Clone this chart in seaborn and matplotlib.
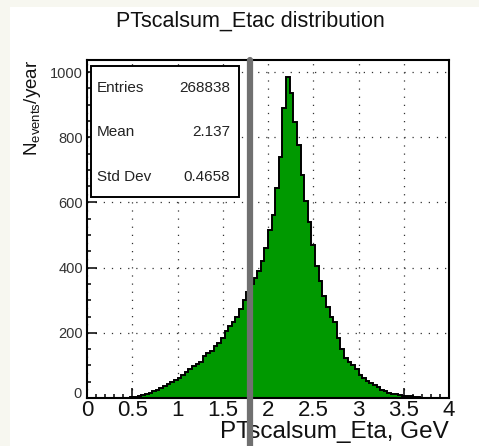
import numpy as np
import pandas as pd
import matplotlib
matplotlib.use("Agg")
import matplotlib.pyplot as plt
import matplotlib.transforms as mtransforms
import seaborn as sns
from matplotlib.patches import Rectangle
from matplotlib.ticker import MultipleLocator

# ---------------- data ----------------
bin_width = 0.04
bin_edges = [round(i * bin_width, 4) for i in range(101)]
bin_centers = [round(e + bin_width / 2, 4) for e in bin_edges[:-1]]
counts = [
    0, 0, 0, 0, 0, 0, 0, 0, 0, 0,            # 0.00-0.40
    0, 0, 2, 4, 6, 9, 12, 16, 20, 25,        # 0.40-0.80
    30, 36, 42, 48, 55, 62, 70, 80, 90, 97,  # 0.80-1.20
    104, 110, 130, 138, 145, 160, 168, 185, 205, 222,   # 1.20-1.60
    232, 248, 274, 300, 325, 350, 368, 391, 420, 460,   # 1.60-2.00
    515, 560, 645, 740, 890, 985, 935, 848, 775, 685,   # 2.00-2.40
    605, 540, 468, 406, 360, 314, 278, 250, 232, 185,   # 2.40-2.80
    151, 124, 109, 100, 89, 70, 60, 52, 45, 40,         # 2.80-3.20
    33, 26, 20, 16, 13, 11, 9, 7, 6, 5,                 # 3.20-3.60
    4, 2, 0, 0, 0, 0, 0, 0, 0, 0,                       # 3.60-4.00
]
cut_value = 1.8
stat_names = ["Entries", "Mean", "Std Dev"]
stat_values = ["268838", "2.137", "0.4658"]
x_ticks = [0, 0.5, 1, 1.5, 2, 2.5, 3, 3.5, 4]
x_tick_labels = ["0", "0.5", "1", "1.5", "2", "2.5", "3", "3.5", "4"]
y_ticks = [0, 200, 400, 600, 800, 1000]

df = pd.DataFrame({"x": bin_centers, "w": counts})

# ---------------- style ----------------
sns.set_theme(style="ticks")
plt.rcParams["font.family"] = ["Liberation Sans", "DejaVu Sans"]
plt.rcParams["mathtext.fontset"] = "custom"
plt.rcParams["mathtext.rm"] = "Liberation Sans"
plt.rcParams["mathtext.it"] = "Liberation Sans"

W, H = 479, 446
fig = plt.figure(figsize=(W / 100, H / 100), dpi=100)
fig.patch.set_facecolor("#f7f7f0")
bg = Rectangle((10 / W, 0), 1 - 10 / W, 1 - 7 / H,
               transform=fig.transFigure, facecolor="white",
               edgecolor="none", zorder=-10)
fig.patches.append(bg)

ax_l, ax_r, ax_t, ax_b = 87, 449, 60, 398
ax = fig.add_axes([ax_l / W, 1 - ax_b / H, (ax_r - ax_l) / W, (ax_b - ax_t) / H])
ax.set_zorder(5)
ax.set_facecolor("white")

sns.histplot(data=df, x="x", weights="w", bins=bin_edges, element="step",
             fill=True, color="#009900", alpha=1.0, linewidth=0,
             ax=ax, zorder=3)
# black outline
ax.stairs(counts, bin_edges, color="black", linewidth=1.4, zorder=4)

ax.set_xlim(0, 4)
ax.set_ylim(0, 1037)
ax.set_xticks(x_ticks)
ax.set_xticklabels(x_tick_labels)
ax.set_yticks(y_ticks)
ax.xaxis.set_minor_locator(MultipleLocator(0.1))
ax.yaxis.set_minor_locator(MultipleLocator(50))
ax.tick_params(axis="both", which="major", direction="in", length=7,
               width=1.1, color="black")
ax.tick_params(axis="both", which="minor", direction="in", length=3,
               width=1.1, color="black")
ax.tick_params(axis="x", which="major", labelsize=16, pad=1.5, labelcolor="#111111")
ax.tick_params(axis="y", which="major", labelsize=10.5, pad=3, labelcolor="#333333")

for s in ax.spines.values():
    s.set_linewidth(1.5)
    s.set_color("black")
    s.set_zorder(6)

ax.grid(True, which="major", color="#333333", linestyle=(0, (1, 5.5)),
        linewidth=0.9)
ax.set_axisbelow(True)

ax.set_xlabel("PTscalsum_Eta, GeV", fontsize=17.5, loc="right", color="#111111")
ax.xaxis.set_label_coords(1.0, -0.068)
ax.xaxis.label.set_va("top")
ax.set_ylabel(r"N$_{\mathrm{events}}$/year", fontsize=13.5, loc="top", color="#111111")
ax.yaxis.set_label_coords(-0.122, 1.0)

fig.text(250 / W, 1 - 21 / H, "PTscalsum_Etac distribution", ha="center",
         va="center", fontsize=15.5, color="#111111")

# lift the y "0" label slightly, as ROOT does, so it clears the x "0"
fig.canvas.draw()
ylabels = ax.get_yticklabels()
if ylabels:
    lab0 = ylabels[0]
    lab0.set_transform(lab0.get_transform() +
                       mtransforms.ScaledTranslation(-1 / 100, 5 / 100,
                                                     fig.dpi_scale_trans))

# stats box
box = Rectangle((0.011, 0.595), 0.409, 0.387, transform=ax.transAxes,
                facecolor="white", edgecolor="black", linewidth=1.4, zorder=7)
ax.add_patch(box)
row_y = [0.917, 0.787, 0.654]
for name, val, yy in zip(stat_names, stat_values, row_y):
    ax.text(0.028, yy, name, transform=ax.transAxes, ha="left", va="center",
            fontsize=11, color="#222222", zorder=8)
    ax.text(0.395, yy, val, transform=ax.transAxes, ha="right", va="center",
            fontsize=11, color="#222222", zorder=8)

# cut line, extending below the axes to the figure bottom
ax.axvline(cut_value, ymin=-(H - ax_b) / (ax_b - ax_t), ymax=1.0,
           color="#707070", linewidth=4.5, clip_on=False, zorder=20)

fig.savefig("out.png", dpi=100, facecolor=fig.get_facecolor())
